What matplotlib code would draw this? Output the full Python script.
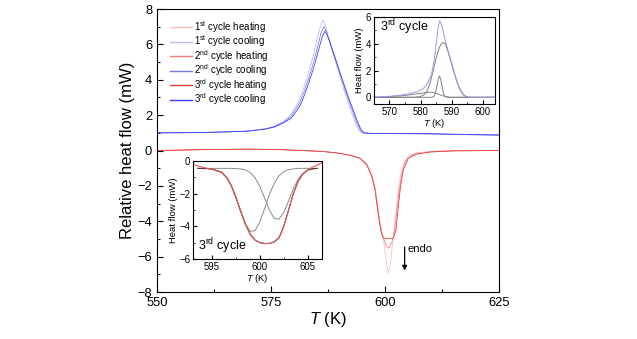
import matplotlib
matplotlib.use("Agg")
import matplotlib.pyplot as plt
from matplotlib.ticker import MultipleLocator

plt.rcParams['font.family'] = ['Liberation Sans', 'DejaVu Sans']
plt.rcParams['mathtext.fontset'] = 'custom'
plt.rcParams['mathtext.rm'] = 'Liberation Sans'
plt.rcParams['mathtext.it'] = 'Liberation Sans:italic'

# main plot: heating curves (endothermic dip)
t_h1 = [550, 560, 570, 577, 582, 586, 589, 592, 594.5, 596, 597.1, 597.8, 598.3, 598.8, 599.3,
        599.7, 600.1, 600.5, 600.75, 601.0, 601.4, 601.8, 602.3, 602.8, 603.3, 604, 605, 607, 610, 615, 625]
q_h1 = [0.0, 0.05, 0.08, 0.05, 0.0, -0.05, -0.12, -0.25, -0.42, -0.75, -1.35, -2.05, -2.95, -3.9, -4.6,
        -5.1, -5.9, -6.7, -6.94, -6.7, -5.9, -4.9, -3.7, -2.5, -1.55, -0.8, -0.35, -0.12, -0.05, 0.0, 0.0]
t_h2 = [550, 560, 570, 577, 582, 586, 589, 592, 594.5, 596, 597.1, 597.8, 598.3, 598.8, 599.3,
        599.8, 600.3, 600.7, 601.1, 601.6, 602.1, 602.6, 603.1, 603.7, 604.5, 606, 610, 615, 625]
q_h2 = [0.0, 0.05, 0.08, 0.05, 0.0, -0.05, -0.12, -0.25, -0.42, -0.78, -1.42, -2.15, -3.1, -4.05, -4.7,
        -5.05, -5.4, -5.53, -5.4, -5.1, -4.55, -3.4, -2.3, -1.3, -0.6, -0.25, -0.08, -0.02, 0.0]
t_h3 = [550, 560, 570, 577, 582, 586, 589, 592, 594.5, 596, 597.1, 597.8, 598.3, 598.8, 599.3,
        599.8, 600.4, 601.8, 602.4, 602.9, 603.4, 604.0, 605.1, 606.9, 610, 615, 625]
q_h3 = [0.0, 0.05, 0.08, 0.05, 0.0, -0.05, -0.12, -0.25, -0.44, -0.82, -1.48, -2.23, -3.18, -4.12, -4.78,
        -4.95, -4.97, -4.96, -4.5, -3.2, -2.05, -1.1, -0.44, -0.2, -0.08, -0.02, 0.0]

# main plot: cooling curves (exothermic peak)
t_c1 = [550, 560, 565, 570, 573.5, 575.5, 577.5, 579, 580, 581, 582, 583, 584, 585, 585.8, 586.4,
        586.9, 587.5, 588.5, 589.5, 590.5, 591.5, 592.5, 593.5, 594.3, 595, 597, 600, 610, 620, 625]
q_c1 = [1.0, 1.02, 1.05, 1.1, 1.22, 1.35, 1.62, 1.92, 2.3, 2.75, 3.4, 4.2, 5.1, 6.2, 7.0, 7.38,
        7.1, 6.5, 5.6, 4.7, 3.85, 3.0, 2.25, 1.55, 1.1, 0.98, 0.96, 0.96, 0.93, 0.88, 0.86]
t_c2 = [550, 560, 565, 570, 573.8, 575.8, 577.8, 579.3, 580.3, 581.3, 582.3, 583.3, 584.3, 585.3, 586.0, 586.6,
        587.1, 587.8, 588.8, 589.8, 590.8, 591.8, 592.8, 593.8, 594.6, 595.3, 597, 600, 610, 620, 625]
q_c2 = [1.0, 1.02, 1.05, 1.1, 1.22, 1.35, 1.6, 1.9, 2.28, 2.7, 3.35, 4.1, 4.95, 5.95, 6.7, 7.0,
        6.75, 6.2, 5.4, 4.6, 3.8, 3.0, 2.28, 1.58, 1.12, 0.99, 0.96, 0.96, 0.94, 0.89, 0.87]
t_c3 = [550, 555, 560, 565, 570, 574, 576, 578, 579.5, 580.5, 581.5, 582.5, 583.5, 584.5, 585.5, 586.2,
        586.8, 587.3, 588, 589, 590, 591, 592, 593, 594, 594.8, 595.5, 597, 600, 610, 620, 625]
q_c3 = [1.0, 1.0, 1.02, 1.05, 1.1, 1.22, 1.35, 1.6, 1.85, 2.2, 2.6, 3.25, 4.0, 4.8, 5.75, 6.4,
        6.75, 6.55, 6.05, 5.3, 4.5, 3.75, 3.0, 2.3, 1.6, 1.15, 1.0, 0.97, 0.97, 0.95, 0.9, 0.88]

# inset 1: 3rd cycle cooling and its components
t_i1 = [565, 570, 573.4, 576, 578.7, 580.9, 582.5, 583.6, 584.4, 585.2, 585.7, 586.2, 586.8, 587.8,
        589, 590, 591, 592, 593, 594, 595, 596, 604]
q_i1 = [0.0, 0.08, 0.15, 0.25, 0.4, 0.65, 1.13, 1.78, 2.78, 4.28, 5.27, 5.72, 5.4, 4.4,
        3.4, 2.6, 1.78, 1.0, 0.5, 0.17, 0.03, 0.0, 0.0]
t_big = [565, 578, 580, 581, 582, 583, 584, 585, 586, 586.7, 587.3, 588, 589, 590, 591, 592, 593, 594, 595, 596, 604]
q_big = [0.0, 0.0, 0.06, 0.17, 0.43, 1.0, 1.9, 2.9, 3.7, 4.0, 4.1, 4.0, 3.3, 2.5, 1.7, 0.95, 0.45, 0.14, 0.03, 0.0, 0.0]
t_nar = [565, 583.5, 584.3, 584.8, 585.3, 585.7, 586.1, 586.5, 586.9, 587.4, 587.9, 588.7, 604]
q_nar = [0.0, 0.0, 0.06, 0.3, 0.84, 1.35, 1.6, 1.35, 0.84, 0.3, 0.06, 0.0, 0.0]
t_low = [565, 570, 574, 577, 580, 582, 583, 584, 585, 586, 587, 588, 589, 590, 604]
q_low = [0.0, 0.05, 0.12, 0.2, 0.3, 0.36, 0.38, 0.36, 0.3, 0.22, 0.13, 0.06, 0.02, 0.0, 0.0]

# inset 2: 3rd cycle heating and its components
t_i2 = [593.0, 593.5, 594, 594.5, 595, 596, 596.5, 597, 597.5, 598, 598.5, 599, 599.5, 600, 600.5,
        601, 601.5, 602, 602.5, 603, 603.5, 604, 604.5, 605, 605.5, 606, 606.5]
q_i2 = [-0.2, -0.3, -0.38, -0.45, -0.5, -0.7, -1.0, -1.5, -2.25, -3.1, -3.9, -4.5, -4.85, -5.0, -5.05,
        -5.05, -4.95, -4.7, -4.0, -3.0, -2.0, -1.25, -0.8, -0.55, -0.38, -0.25, -0.1]
t_fit = [593.5, 594.5, 595, 596, 596.5, 597, 597.5, 598, 598.5, 599, 599.5, 600, 600.5,
         601, 601.5, 602, 602.5, 603, 603.5, 604, 604.5, 605, 605.5, 606]
q_fit = [-0.45, -0.46, -0.5, -0.7, -1.0, -1.5, -2.25, -3.1, -3.9, -4.5, -4.85, -5.0, -5.05,
         -5.05, -4.95, -4.7, -4.0, -3.0, -2.0, -1.25, -0.8, -0.55, -0.47, -0.45]
t_g1 = [593.5, 595, 596, 596.5, 597, 597.5, 598, 598.5, 599, 599.5, 600, 600.5, 601, 601.5, 602,
        602.5, 603, 604, 606]
q_g1 = [-0.45, -0.48, -0.68, -0.98, -1.48, -2.21, -3.08, -3.86, -4.31, -4.26, -3.72, -2.9, -2.05, -1.36, -0.9,
        -0.65, -0.52, -0.45, -0.45]
t_g2 = [593.5, 597, 598, 598.5, 599, 599.5, 600, 600.5, 601, 601.5, 602, 602.5, 603, 603.5, 604,
        604.5, 605, 605.5, 606]
q_g2 = [-0.45, -0.45, -0.48, -0.55, -0.71, -1.03, -1.57, -2.28, -3.02, -3.51, -3.56, -3.14, -2.44, -1.7, -1.12,
        -0.76, -0.57, -0.5, -0.45]

labels = ['1$^{\\mathrm{st}}$ cycle heating', '1$^{\\mathrm{st}}$ cycle cooling',
          '2$^{\\mathrm{nd}}$ cycle heating', '2$^{\\mathrm{nd}}$ cycle cooling',
          '3$^{\\mathrm{rd}}$ cycle heating', '3$^{\\mathrm{rd}}$ cycle cooling']

fig = plt.figure(figsize=(6.37, 3.39), dpi=100)
ax = fig.add_axes([0.2465, 0.1386, 0.5369, 0.8348])

lw = 0.55
ax.plot(t_h1, q_h1, color='#ffb8b8', lw=lw, label=labels[0])
ax.plot(t_c1, q_c1, color='#b8b8ff', lw=lw, label=labels[1])
ax.plot(t_h2, q_h2, color='#ff7878', lw=lw, label=labels[2])
ax.plot(t_c2, q_c2, color='#7878f0', lw=lw, label=labels[3])
ax.plot(t_h3, q_h3, color='#e03a3a', lw=lw, label=labels[4])
ax.plot(t_c3, q_c3, color='#3a3af0', lw=lw, label=labels[5])

ax.set_xlim(550, 625)
ax.set_ylim(-8, 8)
ax.xaxis.set_major_locator(MultipleLocator(25))
ax.xaxis.set_minor_locator(MultipleLocator(12.5))
ax.yaxis.set_major_locator(MultipleLocator(2))
ax.yaxis.set_minor_locator(MultipleLocator(1))
ax.tick_params(which='both', direction='in', labelsize=9.3, width=0.8)
ax.tick_params(which='major', length=4)
ax.tick_params(which='minor', length=2)
ax.set_xlabel('$T$ (K)', fontsize=12, labelpad=1)
ax.set_ylabel('Relative heat flow (mW)', fontsize=12, labelpad=2)
leg = ax.legend(loc='upper left', bbox_to_anchor=(0.02, 0.985), frameon=False, fontsize=7,
                handlelength=2.3, handletextpad=0.25, labelspacing=-0.14, borderaxespad=0.2)
for h in leg.get_lines():
    h.set_linewidth(1.0)

ax.annotate('', xy=(604.3, -6.95), xytext=(604.3, -5.3),
            arrowprops=dict(arrowstyle='-|>', color='black', lw=0.9, mutation_scale=7))
ax.text(605.0, -5.55, 'endo', fontsize=8, va='center', ha='left')

# inset 1
a1 = fig.add_axes([0.5871, 0.6932, 0.19, 0.2566])
a1.plot(t_low, q_low, color='#808080', lw=0.7)
a1.plot(t_nar, q_nar, color='#808080', lw=0.7)
a1.plot(t_big, q_big, color='#808080', lw=0.7)
a1.plot(t_i1, q_i1, color='#9a9af0', lw=0.7)
a1.set_xlim(565, 604)
a1.set_ylim(-0.5, 6)
a1.xaxis.set_major_locator(MultipleLocator(10))
a1.xaxis.set_minor_locator(MultipleLocator(5))
a1.yaxis.set_major_locator(MultipleLocator(2))
a1.yaxis.set_minor_locator(MultipleLocator(1))
a1.tick_params(which='both', direction='in', labelsize=6.9, pad=2)
a1.tick_params(which='major', length=3)
a1.tick_params(which='minor', length=1.5)
a1.set_xlabel('$T$ (K)', fontsize=6.8, labelpad=0)
a1.set_ylabel('Heat flow (mW)', fontsize=6.8, labelpad=1)
a1.text(0.05, 0.88, '3$^{\\mathrm{rd}}$ cycle', transform=a1.transAxes, fontsize=9, va='center')

# inset 2
a2 = fig.add_axes([0.303, 0.236, 0.2025, 0.289])
a2.plot(t_g1, q_g1, color='#8a8a8a', lw=0.7)
a2.plot(t_g2, q_g2, color='#8a8a8a', lw=0.7)
a2.plot(t_fit, q_fit, color='#404040', lw=0.8)
a2.plot(t_i2, q_i2, color='#e85858', lw=0.8)
a2.set_xlim(593, 606.5)
a2.set_ylim(-6, 0)
a2.xaxis.set_major_locator(MultipleLocator(5))
a2.xaxis.set_minor_locator(MultipleLocator(2.5))
a2.yaxis.set_major_locator(MultipleLocator(2))
a2.yaxis.set_minor_locator(MultipleLocator(1))
a2.tick_params(which='both', direction='in', labelsize=6.9, pad=2)
a2.tick_params(which='major', length=3)
a2.tick_params(which='minor', length=1.5)
a2.set_xlabel('$T$ (K)', fontsize=6.8, labelpad=0)
a2.set_ylabel('Heat flow (mW)', fontsize=6.8, labelpad=1)
a2.text(0.04, 0.13, '3$^{\\mathrm{rd}}$ cycle', transform=a2.transAxes, fontsize=9, va='center')

fig.savefig('out.png', dpi=100)
